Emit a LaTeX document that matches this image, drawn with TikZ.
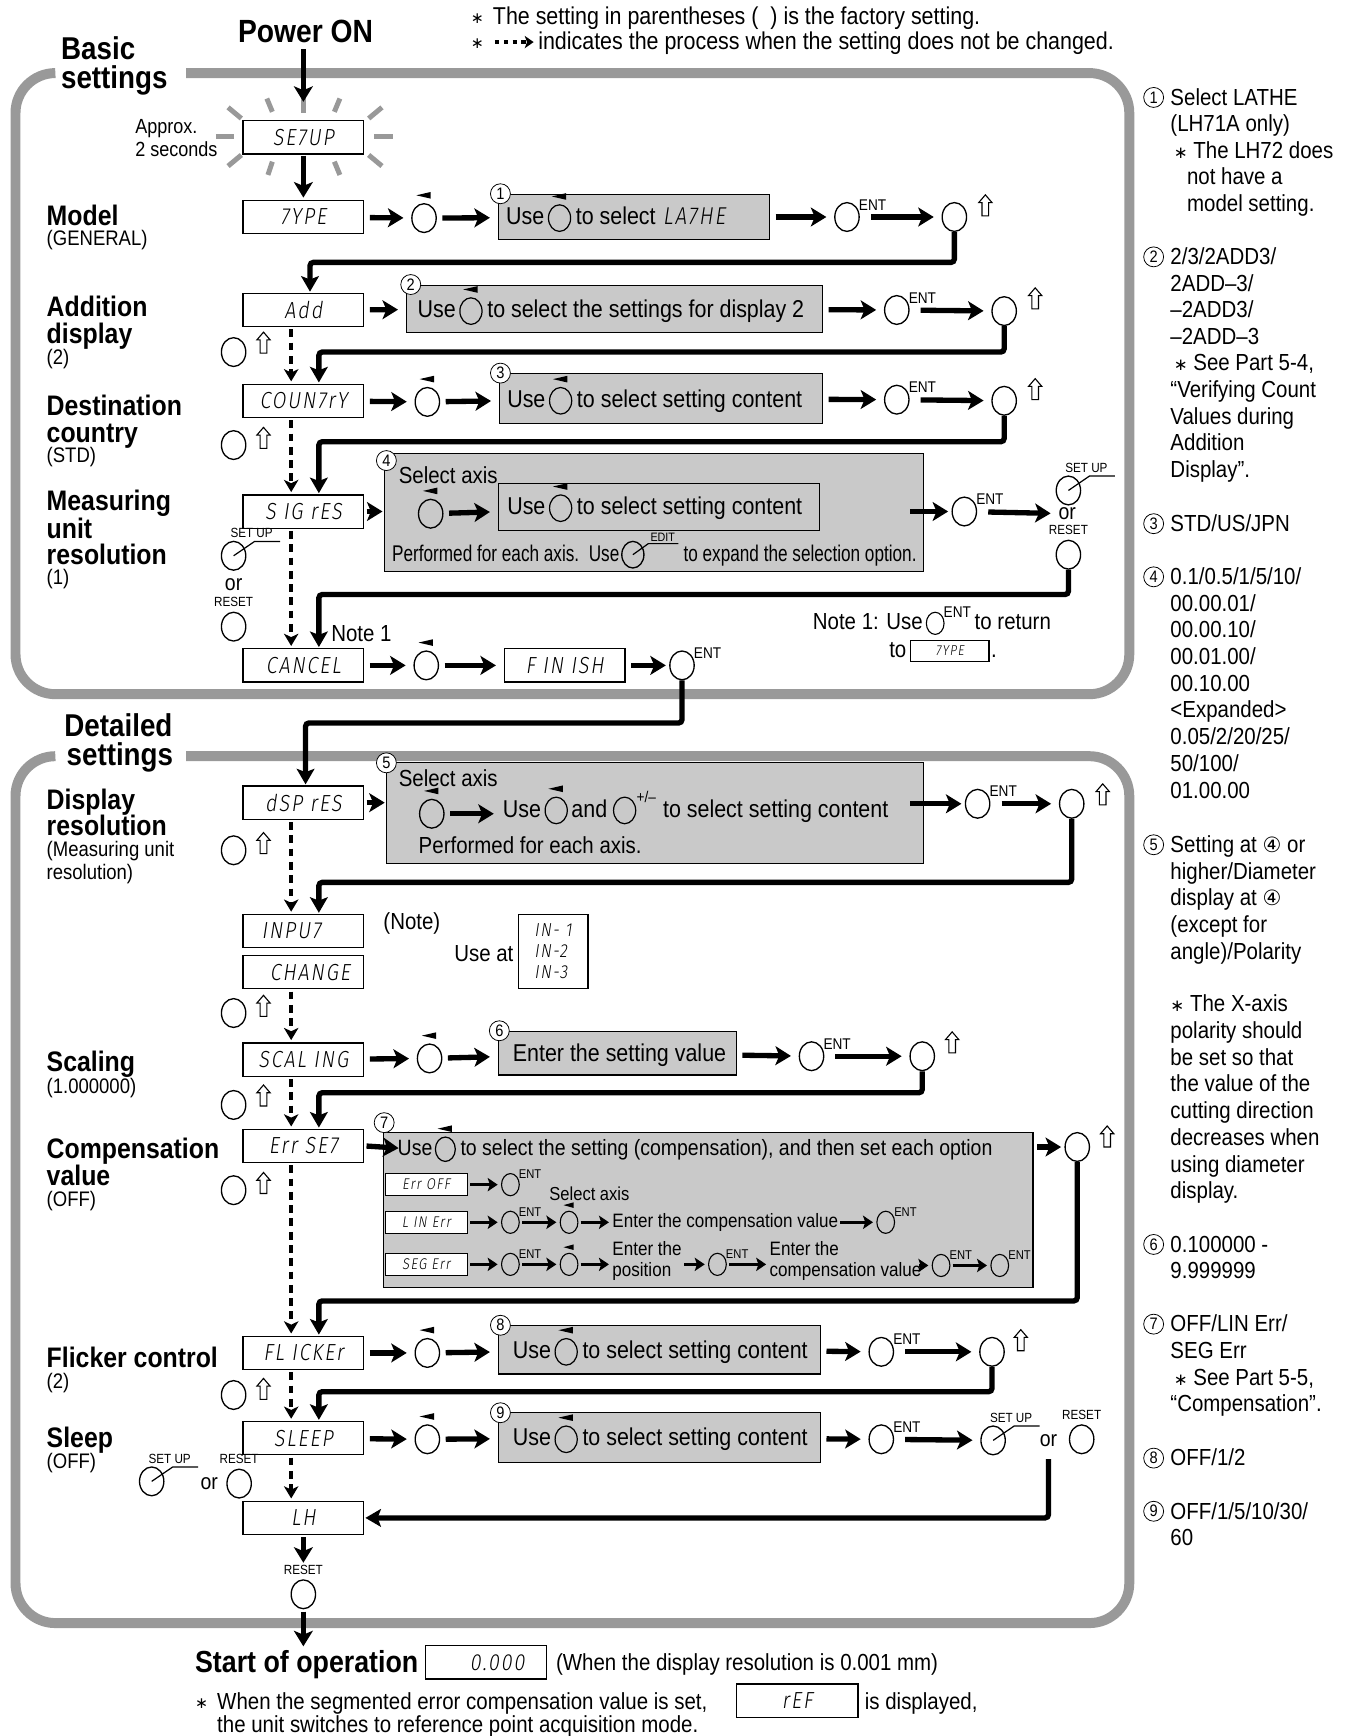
\documentclass[tikz,border=0pt]{standalone}
\usepackage{fontspec}
\usepackage{graphicx}
\setmainfont{Liberation Sans}[FakeStretch=0.88]
\newfontfamily\lcd{Fira Sans Light}[FakeSlant=0.15,FakeStretch=0.85,LetterSpace=8]
\newfontfamily\dv{DejaVu Sans}
\usetikzlibrary{arrows.meta,calc,shapes.geometric}
\newcommand\sz[1]{\fontsize{#1}{#1}\selectfont}
\definecolor{fgray}{gray}{0.6}
\definecolor{bgray}{gray}{0.79}
\tikzset{
  frm/.style={draw=fgray, line width=9pt, rounded corners=36pt},
  lcdb/.style={draw, line width=1.1pt, fill=white, minimum width=109pt, minimum height=30pt, inner sep=0pt, font=\lcd\sz{21}},
  gbox/.style={draw, line width=1pt, fill=bgray, inner sep=0pt},
  btn/.style={ellipse, draw, line width=1.2pt, minimum width=22pt, minimum height=26pt, inner sep=0pt},
  sbtn/.style={ellipse, draw, line width=1pt, minimum width=16pt, minimum height=20pt, inner sep=0pt},
  ibtn/.style={ellipse, draw, line width=1.1pt, minimum width=20pt, minimum height=24pt, inner sep=0pt},
  arr/.style={line width=4.8pt, shorten >=7pt, shorten <=5pt, -{Stealth[length=14pt,width=17pt,inset=3.5pt]}},
  sarr/.style={line width=3pt, shorten >=3pt, shorten <=2pt, -{Stealth[length=9pt,width=12pt,inset=2pt]}},
  lp/.style={line width=4.8pt, rounded corners=3pt, shorten >=1pt, -{Stealth[length=14pt,width=16pt,inset=3pt]}},
  dar/.style={line width=4pt, dash pattern=on 7pt off 5pt, shorten >=2pt, shorten <=2pt, -{Stealth[length=11pt,width=13pt,inset=3pt]}},
  tx/.style={inner sep=0pt, font=\sz{22}, text height=16pt, text depth=4pt},
  lbl/.style={inner sep=0pt, anchor=base west, font=\bfseries\sz{25.5}},
  sec/.style={inner sep=0pt, anchor=base west, font=\bfseries\sz{28.5}},
  sub/.style={inner sep=0pt, anchor=base west, font=\sz{19}},
  note/.style={inner sep=0pt, anchor=base west, font=\sz{21}},
  entl/.style={inner sep=0pt, font=\sz{14}},
  cnum/.style={circle, draw, line width=0.7pt, fill=white, inner sep=0pt, minimum size=18pt, font=\sz{15}},
  ray/.style={draw=fgray, line width=4.5pt},
}
\newcommand\Mk[1]{\fill ($(#1.north)+(-7,-7)$) -- ($(#1.north)+(6,-10)$) -- ($(#1.north)+(6,-4)$) -- cycle;}
\newcommand\SMk[1]{\fill ($(#1.north)+(-5,-5)$) -- ($(#1.north)+(4,-7.5)$) -- ($(#1.north)+(4,-2.5)$) -- cycle;}
\newcommand\Dial[3]{\node[btn] (#1) at (#2,#3) {}; \Mk{#1}}
\newcommand\SDial[3]{\node[sbtn] (#1) at (#2,#3) {}; \SMk{#1}}
\newcommand\Ent[3]{\node[btn] (#1) at (#2,#3) {}; \node[entl, anchor=south west] (#1l) at ($(#1.east)+(-1,-6)$) {ENT};}
\newcommand\SEnt[3]{\node[sbtn] (#1) at (#2,#3) {}; \node[entl, font=\sz{11.5}, anchor=south west] (#1l) at ($(#1.east)+(-1,-5)$) {ENT};}
\newcommand\Up[2]{\draw[line width=1pt, fill=white] (#1,#2-10) -- ++(6,7) -- ++(-3,0) -- ++(0,12) -- ++(-6,0) -- ++(0,-12) -- ++(-3,0) -- cycle;}
\newcommand\Stp[3]{\node[btn] (#1) at (#2,#3) {}; \draw[line width=1.1pt] (#1.center) -- ++(19,-13) -- ++(23,0); \node[inner sep=0pt, anchor=south west, font=\sz{12}] (#1l) at ($(#1.center)+(-3,-16)$) {SET UP};}
\newcommand\Rst[3]{\node[btn] (#1) at (#2,#3) {}; \node[inner sep=0pt, anchor=south, font=\sz{12}] (#1l) at ($(#1.north)+(0,-4)$) {RESET};}
\newcommand\UseSel[4]{\node[tx, anchor=west] (#1a) at (#2,#3) {Use}; \node[ibtn, anchor=west] (#1b) at ([xshift=3pt]#1a.east) {}; \Mk{#1b} \node[tx, anchor=west] (#1c) at ([xshift=4pt]#1b.east) {#4};}
\newcommand\Lines[4]{\foreach \t [count=\i from 0] in {#4} {\node[note] (#1\i) at (#2,{#3+24.1*\i}) {\t};}}
\begin{document}
\begin{tikzpicture}[x=1pt,y=-1pt]
\useasboundingbox (0,0) rectangle (1218,1568);
% frames
\draw[frm] (168,66) -- (1020,66) -- (1020,627) -- (14,627) -- (14,66) -- (50,66);
\draw[frm] (168,683) -- (1020,683) -- (1020,1466) -- (14,1466) -- (14,683) -- (50,683);
% header
\node[inner sep=0pt, anchor=base west, font=\dv\sz{14}] (h1s) at (425,21) {∗};
\node[note, font=\sz{22}] (h1) at (445,22) {The setting in parentheses (\ \ ) is the factory setting.};
\node[inner sep=0pt, anchor=base west, font=\dv\sz{14}] (h2s) at (425,44) {∗};
\coordinate (h2a) at (447,38); \coordinate (h2b) at (482,38);
\draw[line width=3.5pt, dash pattern=on 4pt off 4pt, -{Stealth[length=8pt,width=11pt,inset=2pt]}] (h2a) -- (h2b);
\node[note, font=\sz{22}] (h2) at (486,45) {indicates the process when the setting does not be changed.};
\node[inner sep=0pt, font=\bfseries\sz{29}] (pwr) at (276,28) {Power ON};
\coordinate (pwre) at (274,92);
\node[sec] (sb1) at (55,54) {Basic};
\node[sec] (sb2) at (55,80) {settings};
\node[sec] (sd1) at (58,665) {Detailed};
\node[sec] (sd2) at (60,691) {settings};
% burst
\foreach \ax/\ay/\bx/\by in {206/97/218/107, 241/89/246/101, 274/88/274/102, 307/89/302/101, 345/97/333/107, 338/123/355/123, 195/123/211/123, 206/150/218/140, 242/158/246/146, 274/147/274/159, 307/158/302/146, 345/150/333/140}
  \draw[ray] (\ax,\ay) -- (\bx,\by);
\node[lcdb] (setup) at (274,124) {SE7UP};
\node[inner sep=0pt, anchor=base west, font=\sz{18.5}] (apx1) at (122,121) {Approx.};
\node[inner sep=0pt, anchor=base west, font=\sz{18.5}] (apx2) at (122,141) {2 seconds};
% ===== Model
\node[lbl] (lm1) at (42,204) {Model};
\node[sub] (lm2) at (42,222) {(GENERAL)};
\node[lcdb] (typeb) at (274,196) {7YPE};
\Dial{d1}{383}{197}
\node[gbox, minimum width=245pt, minimum height=40pt] (g1) at (572.5,196) {};
\node[cnum] (c1) at (452,175) {1};
\UseSel{g1}{457}{197}{to select}
\node[tx, anchor=west, font=\lcd\sz{22}] (g1d) at ([xshift=6pt]g1c.east) {LA7HE};
\Ent{e1}{765}{196}
\node[btn] (u1) at (862,196) {};
\Up{890}{186}
% ===== Add
\node[lbl] (la1) at (42,286) {Addition};
\node[lbl] (la2) at (42,310) {display};
\node[sub] (la3) at (42,329) {(2)};
\node[lcdb] (addb) at (274,280) {Add};
\node[gbox, minimum width=376pt, minimum height=43pt] (g2) at (555,279) {};
\node[cnum] (c2) at (371,257) {2};
\UseSel{g2}{377}{281}{to select the settings for display 2}
\Ent{e2}{810}{280}
\node[btn] (u2) at (907,281) {};
\Up{935}{270}
\node[btn] (b2) at (211,318) {};
\Up{238}{310}
% ===== Country
\node[lbl] (lc1) at (42,375) {Destination};
\node[lbl] (lc2) at (42,400) {country};
\node[sub] (lc3) at (42,418) {(STD)};
\node[lcdb] (ctyb) at (274,362) {COUN7rY};
\Dial{d3}{386}{363}
\node[gbox, minimum width=292pt, minimum height=45pt] (g3) at (597,360) {};
\node[cnum] (c3) at (452,337) {3};
\UseSel{g3}{458}{362}{to select setting content}
\Ent{e3}{810}{361}
\node[btn] (u3) at (907,362) {};
\Up{935}{352}
\node[btn] (b3) at (211,402) {};
\Up{238}{396}
% ===== SIG rES
\node[lbl] (ls1) at (42,461) {Measuring};
\node[lbl] (ls2) at (42,486) {unit};
\node[lbl] (ls3) at (42,510) {resolution};
\node[sub] (ls4) at (42,528) {(1)};
\node[lcdb] (sigb) at (274,462) {S IG rES};
\node[gbox, minimum width=487pt, minimum height=107pt] (g4) at (590.5,463) {};
\node[cnum] (c4) at (349,416) {4};
\node[inner sep=0pt, anchor=base west, font=\sz{21}] (g4t) at (360,437) {Select axis};
\Dial{d4}{389}{464}
\node[gbox, minimum width=290pt, minimum height=43pt] (g4i) at (595,458) {};
\UseSel{g4u}{458}{459}{to select setting content}
\node[tx, anchor=west, font=\sz{20.5}] (g4p) at (354,501) {\scalebox{0.86}[1]{Performed for each axis.\ \ Use}};
\node[btn, minimum width=20pt, minimum height=24pt] (g4e) at ([xshift=12pt]g4p.east) {};
\draw[line width=1.1pt] (g4e.center) -- ++(14,-10) -- ++(27,0);
\node[inner sep=0pt, anchor=south, font=\sz{11}] (g4el) at ($(g4e.center)+(27,-12)$) {EDIT};
\node[tx, anchor=west, font=\sz{20.5}] (g4q) at ([xshift=35pt]g4e.east) {\scalebox{0.86}[1]{to expand the selection option.}};
\coordinate (g4o) at (822,462);
\Ent{e4}{871}{462}
\Stp{s4}{965}{443}
\node[inner sep=0pt, font=\sz{20}] (or4) at (964,464) {or};
\Rst{r4}{965}{501}
\Stp{s4l}{211}{502}
\node[inner sep=0pt, font=\sz{20}] (or4l) at (211,528) {or};
\Rst{r4l}{211}{566}
\node[note] (note1) at (299,579) {Note 1};
% ===== CANCEL
\node[lcdb] (cancb) at (274,601) {CANCEL};
\Dial{d5}{385}{601}
\node[lcdb] (finb) at (510,601) {F IN ISH};
\Ent{e5}{616}{601}
\node[tx, anchor=west, font=\sz{21}] (nt1) at (734,563) {Note 1: Use};
\node[sbtn] (nt1b) at ([xshift=11pt]nt1.east) {};
\node[entl, anchor=south west] (nt1bl) at ($(nt1b.east)+(-1,-5)$) {ENT};
\node[tx, anchor=west, font=\sz{21}] (nt1c) at ([xshift=27pt]nt1b.east) {to return};
\node[tx, anchor=west, font=\sz{21}] (nt2) at (803,588) {to};
\node[lcdb, minimum width=71pt, minimum height=19pt, font=\lcd\sz{13}, anchor=west] (nt2b) at ([xshift=3pt]nt2.east) {7YPE};
\node[tx, anchor=west, font=\sz{21}] (nt2c) at ([xshift=1pt]nt2b.east) {.};
% ===== Display resolution
\node[lbl] (ld1) at (42,731) {Display};
\node[lbl] (ld2) at (42,755) {resolution};
\node[sub] (ld3) at (42,774) {(Measuring unit};
\node[sub] (ld4) at (42,794) {resolution)};
\node[lcdb] (dspb) at (274,725) {dSP rES};
\node[gbox, minimum width=485pt, minimum height=91pt] (g5) at (591.5,734.5) {};
\node[cnum] (c5) at (349,689) {5};
\node[inner sep=0pt, anchor=base west, font=\sz{21}] (g5t) at (360,710) {Select axis};
\Dial{d6}{390}{735}
\node[tx, anchor=west] (g5a) at (454,732) {Use};
\node[ibtn, anchor=west] (g5b) at ([xshift=3pt]g5a.east) {}; \Mk{g5b}
\node[tx, anchor=west] (g5c) at ([xshift=3pt]g5b.east) {and};
\node[ibtn, anchor=west] (g5d) at ([xshift=5pt]g5c.east) {};
\node[entl, anchor=south west] (g5dl) at ($(g5d.east)+(0,-7)$) {+/–};
\node[tx, anchor=west] (g5e) at ([xshift=24pt]g5d.east) {to select setting content};
\node[inner sep=0pt, anchor=base west, font=\sz{21}] (g5p) at (378,771) {Performed for each axis.};
\coordinate (g5o) at (822,726);
\Ent{e6}{883}{726}
\node[btn] (u6) at (968,726) {};
\Up{996}{718}
\node[btn] (b6) at (211,768) {};
\Up{238}{762}
% ===== INPUT CHANGE
\node[lcdb] (inpb) at (274,841) {INPU7\hspace*{22pt}};
\node[lcdb] (chgb) at (274,878) {\hspace*{12pt}CHANGE};
\node[inner sep=0pt, font=\sz{21}] (inn) at (372,834) {(Note)};
\node[inner sep=0pt, font=\sz{21}] (inu) at (437,861) {Use at};
\node[draw, line width=1.1pt, minimum width=63pt, minimum height=67pt, inner sep=3pt, align=left, font=\lcd\fontsize{17}{19}\selectfont] (inbox) at (499.5,859.5) {IN- 1\\IN-2\\IN-3};
\node[btn] (b7) at (211,915) {};
\Up{238}{909}
% ===== Scaling
\node[lbl] (lsc1) at (42,968) {Scaling};
\node[sub] (lsc2) at (42,988) {(1.000000)};
\node[lcdb] (sclb) at (274,957) {SCAL ING};
\Dial{d8}{388}{956}
\node[gbox, minimum width=215pt, minimum height=39pt] (g6) at (557.5,951.5) {};
\node[cnum] (c6) at (451,931) {6};
\node[tx, anchor=west] (g6t) at (463,953) {Enter the setting value};
\Ent{e8}{733}{954}
\node[btn] (u8) at (833,954) {};
\Up{860}{942}
\node[btn] (b8) at (211,998) {};
\Up{238}{990}
% ===== Compensation
\node[lbl] (lcp1) at (42,1046) {Compensation};
\node[lbl] (lcp2) at (42,1071) {value};
\node[sub] (lcp3) at (42,1090) {(OFF)};
\node[lcdb] (errb) at (274,1035) {Err SE7};
\node[gbox, minimum width=587pt, minimum height=140pt] (g7) at (639.5,1093) {};
\node[cnum] (c7) at (347,1014) {7};
\coordinate (g7in) at (360,1037);
\node[tx, anchor=west, font=\sz{20}] (g7a) at (359,1038) {Use};
\node[ibtn, minimum width=18pt, minimum height=22pt, anchor=west] (g7b) at ([xshift=2pt]g7a.east) {}; \Mk{g7b}
\node[tx, anchor=west, font=\sz{20}] (g7c) at ([xshift=4pt]g7b.east) {to select the setting (compensation), and then set each option};
\node[lcdb, minimum width=74pt, minimum height=20pt, font=\lcd\sz{14}] (eo) at (385,1070) {Err OFF};
\SEnt{se1}{461}{1070}
\node[inner sep=0pt, anchor=base west, font=\sz{17}] (g7s) at (496,1084) {Select axis};
\node[lcdb, minimum width=74pt, minimum height=20pt, font=\lcd\sz{14}] (li) at (385,1104) {L IN Err};
\SEnt{se2}{461}{1104}
\SDial{sd2}{514}{1104}
\node[inner sep=0pt, anchor=west, font=\sz{17.5}] (ec1) at (553,1104) {Enter the compensation value};
\SEnt{se3}{800}{1104}
\node[lcdb, minimum width=74pt, minimum height=20pt, font=\lcd\sz{14}] (sg) at (385,1142) {SEG Err};
\SEnt{se4}{461}{1142}
\SDial{sd4}{514}{1142}
\node[inner sep=0pt, anchor=west, align=left, font=\fontsize{17.5}{19.5}\selectfont] (ep1) at (553,1139) {Enter the\\position};
\SEnt{se5}{648}{1142}
\node[inner sep=0pt, anchor=west, align=left, font=\fontsize{17.5}{19.5}\selectfont] (ep2) at (695,1139) {Enter the\\compensation value};
\SEnt{se6}{850}{1143}
\SEnt{se7}{903}{1143}
\coordinate (g7o) at (937,1036);
\node[btn] (u9) at (973,1036) {};
\Up{1000}{1027}
\node[btn] (b9) at (211,1075) {};
\Up{238}{1069}
% ===== Flicker
\node[lbl] (lf1) at (42,1235) {Flicker control};
\node[sub] (lf2) at (42,1254) {(2)};
\node[lcdb] (flkb) at (274,1222) {FL ICKEr};
\Dial{d10}{386}{1222}
\node[gbox, minimum width=291pt, minimum height=44pt] (g8) at (595.5,1219) {};
\node[cnum] (c8) at (452,1197) {8};
\UseSel{g8}{463}{1221}{to select setting content}
\Ent{e10}{796}{1221}
\node[btn] (u10) at (896,1221) {};
\Up{922}{1211}
\node[btn] (b10) at (211,1260) {};
\Up{238}{1255}
% ===== Sleep
\node[lbl] (lsl1) at (42,1307) {Sleep};
\node[sub] (lsl2) at (42,1326) {(OFF)};
\node[lcdb] (slpb) at (274,1299) {SLEEP};
\Dial{d11}{386}{1300}
\node[gbox, minimum width=291pt, minimum height=45pt] (g9) at (595.5,1298.5) {};
\node[cnum] (c9) at (452,1276) {9};
\UseSel{g9}{463}{1300}{to select setting content}
\Ent{e11}{796}{1300}
\Stp{s11}{897}{1301}
\node[inner sep=0pt, font=\sz{20}] (or11) at (947,1301) {or};
\Rst{r11}{977}{1300}
\coordinate (l11a) at (947,1318);
\Stp{s11l}{137}{1338}
\node[inner sep=0pt, font=\sz{20}] (or11l) at (189,1340) {or};
\Rst{r11l}{216}{1340}
\node[lcdb] (lhb) at (274,1371) {LH};
\Rst{rfin}{274}{1440}
\coordinate (startop) at (274,1487);
% ===== bottom
\node[inner sep=0pt, anchor=base west, font=\bfseries\sz{27.5}] (sop) at (176,1511) {Start of operation};
\node[lcdb] (zb) at (439,1501.5) {\hspace*{20pt}0.000};
\node[note] (sop2) at (502,1509) {(When the display resolution is 0.001 mm)};
\node[inner sep=0pt, anchor=base west, font=\dv\sz{14}] (ast3) at (176,1543) {∗};
\node[note] (w1) at (196,1544) {When the segmented error compensation value is set,};
\node[lcdb, minimum width=110pt] (refb) at (720,1536) {rEF};
\node[note] (w2) at (781,1544) {is displayed,};
\node[note] (w3) at (196,1565) {the unit switches to reference point acquisition mode.};
% ===== right notes
\node[cnum] (rn1) at (1042,88) {1};
\Lines{ra}{1057}{95}{Select LATHE,{(LH71A only)}}
\Lines{rb}{1060}{143}{{{\dv\sz{15}∗} The LH72 does}}
\Lines{rc}{1072}{167}{not have a,model setting.}
\node[cnum] (rn2) at (1042,232) {2};
\Lines{rd}{1057}{239}{2/3/2ADD3/,2ADD–3/,–2ADD3/,–2ADD–3}
\Lines{re}{1060}{335}{{{\dv\sz{15}∗} See Part 5-4,}}
\Lines{rf}{1057}{359}{“Verifying Count,Values during,Addition,Display”.}
\node[cnum] (rn3) at (1042,473) {3};
\Lines{rg}{1057}{480}{STD/US/JPN}
\node[cnum] (rn4) at (1042,521) {4};
\Lines{rh}{1057}{528}{0.1/0.5/1/5/10/,00.00.01/,00.00.10/,00.01.00/,00.10.00,<Expanded>,0.05/2/20/25/,50/100/,01.00.00}
\node[cnum] (rn5) at (1042,763) {5};
\Lines{ri}{1057}{770}{{Setting at {\dv\sz{19}④} or},higher/Diameter,{display at {\dv\sz{19}④}},{(except for},{angle)/Polarity}}
\Lines{rj}{1057}{914}{{{\dv\sz{15}∗} The X-axis},polarity should,be set so that,the value of the,cutting direction,decreases when,using diameter,display.}
\node[cnum] (rn6) at (1042,1124) {6};
\Lines{rk}{1057}{1131}{0.100000 -,9.999999}
\node[cnum] (rn7) at (1042,1196) {7};
\Lines{rl}{1057}{1203}{OFF/LIN Err/,SEG Err}
\Lines{rm}{1060}{1251}{{{\dv\sz{15}∗} See Part 5-5,}}
\Lines{rn}{1057}{1275}{“Compensation”.}
\node[cnum] (rn8) at (1042,1317) {8};
\Lines{ro}{1057}{1324}{OFF/1/2}
\node[cnum] (rn9) at (1042,1365) {9};
\Lines{rp}{1057}{1372}{OFF/1/5/10/30/,60}
% ===== connectors
\draw[arr, shorten <=6pt, shorten >=0pt] (pwr.south -| pwre) -- (pwre);
\draw[arr, shorten <=1pt, shorten >=2pt] (setup) -- (typeb);
\draw[arr] (typeb) -- (d1);
\draw[arr] (d1) -- (g1);
\draw[arr] (g1) -- (e1);
\draw[arr, shorten <=10pt] (e1) -- (u1);
\coordinate (l1) at (280,237);
\draw[lp] (u1.south) |- (l1) -- (l1 |- addb.north);
\draw[arr] (addb) -- (g2);
\draw[arr] (g2) -- (e2);
\draw[arr, shorten <=10pt] (e2) -- (u2);
\coordinate (l2) at (288,318);
\draw[lp] (u2.south) |- (l2) -- (l2 |- ctyb.north);
\draw[dar] ([xshift=-11pt]addb.south) -- ([xshift=-11pt]ctyb.north);
\draw[arr] (ctyb) -- (d3);
\draw[arr] (d3) -- (g3);
\draw[arr] (g3) -- (e3);
\draw[arr, shorten <=10pt] (e3) -- (u3);
\coordinate (l3) at (288,399);
\draw[lp] (u3.south) |- (l3) -- (l3 |- sigb.north);
\draw[dar] ([xshift=-11pt]ctyb.south) -- ([xshift=-11pt]sigb.north);
\draw[arr, shorten >=1pt, shorten <=2pt] (sigb.east) -- (sigb.east -| g4.west);
\draw[arr] (d4) -- (g4i);
\draw[arr, shorten <=0pt, shorten >=3pt] (g4o) -- (e4);
\draw[arr, shorten <=10pt] (e4) -- (or4);
\coordinate (l4) at (288,537);
\draw[lp] (r4.south) |- (l4) -- (l4 |- cancb.north);
\draw[dar] ([xshift=-11pt]sigb.south) -- ([xshift=-11pt]cancb.north);
\draw[arr] (cancb) -- (d5);
\draw[arr] (d5) -- (finb);
\draw[arr, shorten >=3pt] (finb) -- (e5);
\coordinate (l5a) at (616,653);
\coordinate (l5b) at (276,653);
\draw[lp] (e5.south) -- (l5a) -- (l5b) -- (l5b |- dspb.north);
\draw[arr, shorten >=1pt, shorten <=2pt] (dspb.east) -- (dspb.east -| g5.west);
\draw[arr, shorten >=8pt] (d6) -- (d6 -| g5a.west);
\draw[arr, shorten <=0pt, shorten >=3pt] (g5o) -- (e6);
\draw[arr, shorten <=10pt] (e6) -- (u6);
\coordinate (l6) at (288,797);
\draw[lp] (u6.south) |- (l6) -- (l6 |- inpb.north);
\draw[dar] ([xshift=-11pt]dspb.south) -- ([xshift=-11pt]inpb.north);
\draw[dar] ([xshift=-11pt]chgb.south) -- ([xshift=-11pt]sclb.north);
\draw[arr] (sclb) -- (d8);
\draw[arr] (d8) -- (g6);
\draw[arr] (g6) -- (e8);
\draw[arr, shorten <=10pt] (e8) -- (u8);
\coordinate (l8) at (288,987);
\draw[lp] (u8.south) |- (l8) -- (l8 |- errb.north);
\draw[dar] ([xshift=-11pt]sclb.south) -- ([xshift=-11pt]errb.north);
\draw[arr, shorten >=0pt, shorten <=2pt] (errb.east) -- (g7in);
\draw[sarr] (eo) -- (se1);
\draw[sarr] (li) -- (se2);
\draw[sarr] (se2) -- (sd2);
\draw[sarr] (sd2) -- (ec1);
\draw[sarr] (ec1) -- (se3);
\draw[sarr] (sg) -- (se4);
\draw[sarr] (se4) -- (sd4);
\draw[sarr] (sd4) -- (sd4 -| ep1.west);
\draw[sarr] (ep1.east |- se5) -- (se5);
\draw[sarr] (se5) -- (se5 -| ep2.west);
\draw[sarr] (ep2.east |- se6) -- (se6);
\draw[sarr] (se6) -- (se7);
\draw[arr, shorten <=0pt, shorten >=3pt] (g7o) -- (u9);
\coordinate (l9) at (288,1175);
\draw[lp] (u9.south) |- (l9) -- (l9 |- flkb.north);
\draw[dar] ([xshift=-11pt]errb.south) -- ([xshift=-11pt]flkb.north);
\draw[arr] (flkb) -- (d10);
\draw[arr] (d10) -- (g8);
\draw[arr] (g8) -- (e10);
\draw[arr, shorten <=10pt] (e10) -- (u10);
\coordinate (l10) at (288,1257);
\draw[lp] (u10.south) |- (l10) -- (l10 |- slpb.north);
\draw[dar] ([xshift=-11pt]flkb.south) -- ([xshift=-11pt]slpb.north);
\draw[arr] (slpb) -- (d11);
\draw[arr] (d11) -- (g9);
\draw[arr] (g9) -- (e11);
\draw[arr, shorten <=10pt] (e11) -- (s11);
\draw[lp] (l11a) |- (lhb.east);
\draw[dar] ([xshift=-11pt]slpb.south) -- ([xshift=-11pt]lhb.north);
\draw[arr, shorten <=2pt, shorten >=2pt] (lhb) -- (rfinl);
\draw[arr, shorten <=2pt, shorten >=0pt] (rfin) -- (startop);
\end{tikzpicture}
\end{document}
